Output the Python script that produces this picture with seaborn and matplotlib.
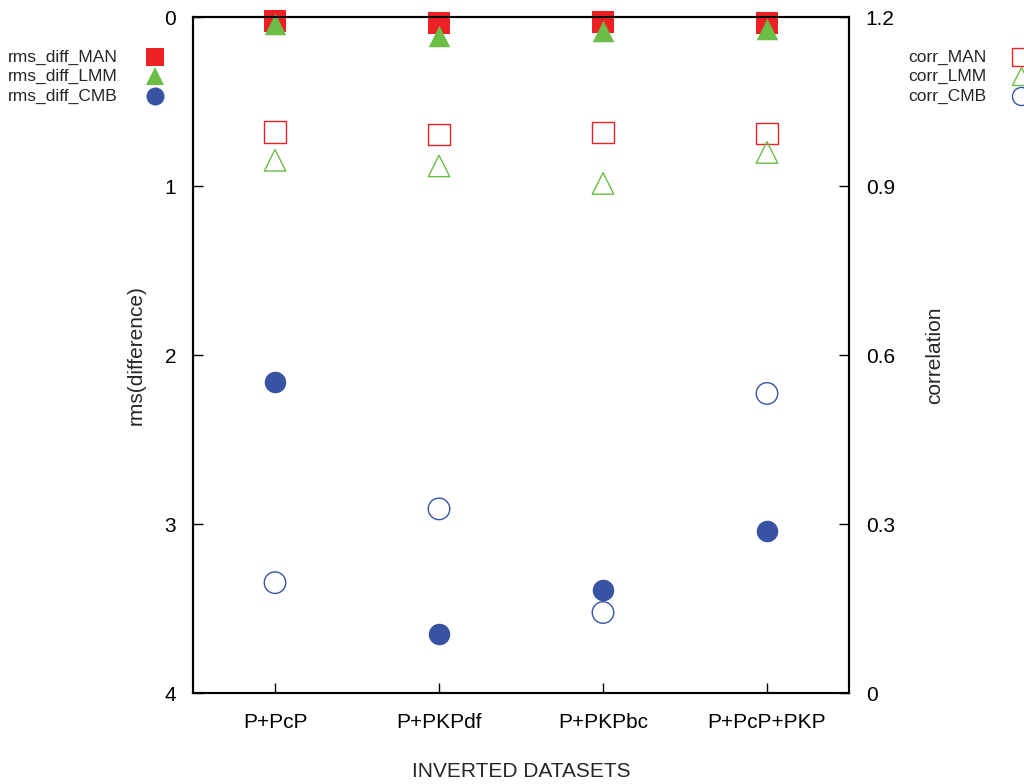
import numpy as np
import pandas as pd
import matplotlib
matplotlib.use("Agg")
import matplotlib.pyplot as plt
import seaborn as sns
from matplotlib.lines import Line2D

datasets = ["P+PcP", "P+PKPdf", "P+PKPbc", "P+PcP+PKP"]

# rms(difference), left axis (inverted)
rms_man = [0.02, 0.035, 0.03, 0.035]
rms_lmm = [0.04, 0.11, 0.08, 0.07]
rms_cmb = [2.16, 3.65, 3.39, 3.04]

# correlation, right axis
corr_man = [0.996, 0.992, 0.995, 0.994]
corr_lmm = [0.946, 0.936, 0.905, 0.960]
corr_cmb = [0.196, 0.327, 0.143, 0.532]

red = "#ed2024"
green = "#6bbd45"
blue = "#3853a4"

sns.set_style("ticks")
plt.rcParams['font.family'] = ['Liberation Sans', 'DejaVu Sans']

fig = plt.figure(figsize=(10.24, 7.84), dpi=100)
ax = fig.add_axes([0.1885, 0.116, 0.6406, 0.862])
ax2 = ax.twinx()

df = pd.DataFrame({'ds': datasets, 'rms_man': rms_man, 'rms_lmm': rms_lmm,
                   'rms_cmb': rms_cmb, 'corr_man': corr_man,
                   'corr_lmm': corr_lmm, 'corr_cmb': corr_cmb})

filled = [('rms_man', 's', red, 'rms_diff_MAN'),
          ('rms_lmm', '^', green, 'rms_diff_LMM'),
          ('rms_cmb', 'o', blue, 'rms_diff_CMB')]
opened = [('corr_man', 's', red, 'corr_MAN'),
          ('corr_lmm', '^', green, 'corr_LMM'),
          ('corr_cmb', 'o', blue, 'corr_CMB')]

for col, mk, c, lab in filled:
    sns.scatterplot(data=df, x='ds', y=col, ax=ax, marker=mk, color=c,
                    s=240, linewidth=0, clip_on=False, zorder=3)

for col, mk, c, lab in opened:
    sns.scatterplot(data=df, x='ds', y=col, ax=ax2, marker=mk,
                    facecolor='none', edgecolor=c, s=240, linewidth=1.0,
                    clip_on=False)
    # tiny centre dot like the original
    sns.scatterplot(data=df, x='ds', y=col, ax=ax2, marker='.',
                    color=c, s=2, linewidth=0)

ax.set_xlim(-0.5, 3.5)
ax.set_ylim(4, 0)
ax.set_yticks([0, 1, 2, 3, 4])
ax2.set_ylim(0, 1.2)
ax2.set_yticks([0, 0.3, 0.6, 0.9, 1.2])
ax2.set_yticklabels(["0", "0.3", "0.6", "0.9", "1.2"])

for a in (ax, ax2):
    for s in a.spines.values():
        s.set_visible(True)
        s.set_linewidth(1.5)
        s.set_color('black')
    a.tick_params(direction='in', length=7, width=1, labelsize=15, pad=12,
                  colors='black')
ax.tick_params(axis='x', top=False, pad=14)

ax.set_xlabel("INVERTED DATASETS", fontsize=15, labelpad=22)
ax.set_ylabel("rms(difference)", fontsize=15, labelpad=14)
ax2.set_ylabel("correlation", fontsize=15, labelpad=22)

# key blocks, drawn by hand in figure pixels like the gnuplot key
W, H = 1024, 784
rows = [57, 76, 96]
for (_, mk, c, lab), y in zip(filled, rows):
    fig.text(8 / W, 1 - y / H, lab, fontsize=12.5, va='center', ha='left')
    fig.add_artist(Line2D([155 / W], [1 - y / H], transform=fig.transFigure,
                          linestyle='none', marker=mk, color=c,
                          markersize=13, markeredgewidth=0))
for (_, mk, c, lab), y in zip(opened, rows):
    fig.text(908 / W, 1 - y / H, lab, fontsize=12.5, va='center', ha='left')
    fig.add_artist(Line2D([1021 / W], [1 - y / H], transform=fig.transFigure,
                          linestyle='none', marker=mk, markerfacecolor='none',
                          markeredgecolor=c, markersize=13, markeredgewidth=1))

fig.savefig("out.png", dpi=100)
